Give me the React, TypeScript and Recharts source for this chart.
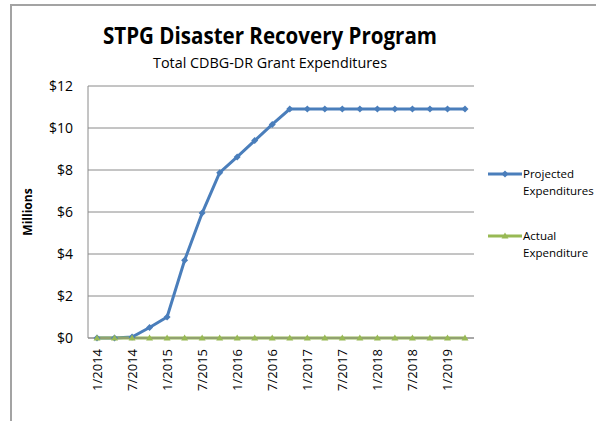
import { LineChart, Line, XAxis, YAxis, CartesianGrid } from 'recharts';

const dates = [
  '1/2014', '4/2014', '7/2014', '10/2014',
  '1/2015', '4/2015', '7/2015', '10/2015',
  '1/2016', '4/2016', '7/2016', '10/2016',
  '1/2017', '4/2017', '7/2017', '10/2017',
  '1/2018', '4/2018', '7/2018', '10/2018',
  '1/2019', '4/2019',
];
const projected = [
  0, 0, 0.05, 0.5,
  1.0, 3.7, 5.95, 7.87,
  8.62, 9.4, 10.17, 10.9,
  10.9, 10.9, 10.9, 10.9,
  10.9, 10.9, 10.9, 10.9,
  10.9, 10.9,
];
const actual = [
  0, 0, 0, 0,
  0, 0, 0, 0,
  0, 0, 0, 0,
  0, 0, 0, 0,
  0, 0, 0, 0,
  0, 0,
];
const yTicks = [0, 2, 4, 6, 8, 10, 12];

const data = dates.map((d, i) => ({ date: d, projected: projected[i], actual: actual[i] }));

const FONT = "'Open Sans', sans-serif";
const BLUE = '#4A7EBB';
const GREEN = '#98B954';
const GRID = '#8a8a8a';

function Diamond(props: any) {
  const { cx, cy, index } = props;
  if (cx == null || cy == null) return <g key={index} />;
  return <path key={index} d={`M${cx},${cy - 3.5}L${cx + 3.5},${cy}L${cx},${cy + 3.5}L${cx - 3.5},${cy}Z`} fill={BLUE} />;
}

function Triangle(props: any) {
  const { cx, cy, index } = props;
  if (cx == null || cy == null) return <g key={index} />;
  return <path key={index} d={`M${cx},${cy - 3.5}L${cx + 3.5},${cy + 2.5}L${cx - 3.5},${cy + 2.5}Z`} fill={GREEN} />;
}

function DateTick(props: any) {
  const { x, y, payload } = props;
  return (
    <g transform={`translate(${x},${y})`}>
      <text transform="rotate(-90)" x={-11} y={0} dy="0.36em" textAnchor="end" fontSize={13} fill="#000" fontFamily={FONT}>
        {payload.value}
      </text>
    </g>
  );
}

const legendItems = [
  { lines: ['Projected', 'Expenditures'], color: BLUE, marker: 'diamond', top: 0 },
  { lines: ['Actual', 'Expenditure'], color: GREEN, marker: 'triangle', top: 62 },
];

function ChartLegend() {
  return (
    <div style={{ position: 'absolute', left: 487, top: 165, width: 110, height: 100, fontFamily: FONT, fontSize: 11.5 }}>
      {legendItems.map((it) => (
        <div key={it.lines[0]} style={{ position: 'absolute', left: 0, top: it.top }}>
          <svg width={36} height={12} style={{ position: 'absolute', left: 0, top: 3 }}>
            <line x1={1} y1={6} x2={35} y2={6} stroke={it.color} strokeWidth={3} />
            {it.marker === 'diamond' ? (
              <path d="M18,2.5L21.5,6L18,9.5L14.5,6Z" fill={it.color} />
            ) : (
              <path d="M18,2.5L21.5,8.5L14.5,8.5Z" fill={it.color} />
            )}
          </svg>
          <div style={{ position: 'absolute', left: 36, top: 0, lineHeight: '17px', whiteSpace: 'nowrap', color: '#000' }}>
            {it.lines[0]}
            <br />
            {it.lines[1]}
          </div>
        </div>
      ))}
    </div>
  );
}

export default function App() {
  return (
    <div style={{ position: 'absolute', left: 0, top: 0, width: 596, height: 421, background: '#fff', overflow: 'hidden' }}>
      <div style={{ position: 'absolute', left: 10, top: 4, right: -2, bottom: -2, borderLeft: '2px solid #a3a3a3', borderTop: '2px solid #a3a3a3' }} />
      <LineChart width={596} height={421} data={data} margin={{ top: 86, right: 122, bottom: 0, left: 0 }}>
        <CartesianGrid vertical={false} stroke={GRID} />
        <XAxis
          dataKey="date"
          height={83}
          interval={1}
          padding={{ left: 9, right: 9 }}
          tickLine={false}
          tickSize={0}
          tickMargin={0}
          stroke={GRID}
          tick={<DateTick />}
        />
        <YAxis
          width={88}
          domain={[0, 12]}
          ticks={yTicks}
          tickLine={false}
          tickSize={0}
          tickMargin={15}
          stroke={GRID}
          tick={{ fill: '#000', fontSize: 14, fontFamily: FONT }}
          tickFormatter={(v: number) => `$${v}`}
        />
        <Line type="linear" dataKey="projected" stroke={BLUE} strokeWidth={3} dot={Diamond} isAnimationActive={false} />
        <Line type="linear" dataKey="actual" stroke={GREEN} strokeWidth={3} dot={Triangle} isAnimationActive={false} />
      </LineChart>
      <ChartLegend />
      <svg width={596} height={421} style={{ position: 'absolute', left: 0, top: 0, pointerEvents: 'none' }}>
        <text x={270} y={44} textAnchor="middle" fontFamily={FONT} fontWeight="bold" fontSize={23} textLength={334} lengthAdjust="spacingAndGlyphs" fill="#000">
          STPG Disaster Recovery Program
        </text>
        <text x={270} y={68} textAnchor="middle" fontFamily={FONT} fontSize={14.5} textLength={234} lengthAdjust="spacingAndGlyphs" fill="#000">
          Total CDBG-DR Grant Expenditures
        </text>
        <text transform="translate(32,212) rotate(-90)" textAnchor="middle" fontFamily={FONT} fontWeight="bold" fontSize={12} fill="#000">
          Millions
        </text>
      </svg>
    </div>
  );
}
